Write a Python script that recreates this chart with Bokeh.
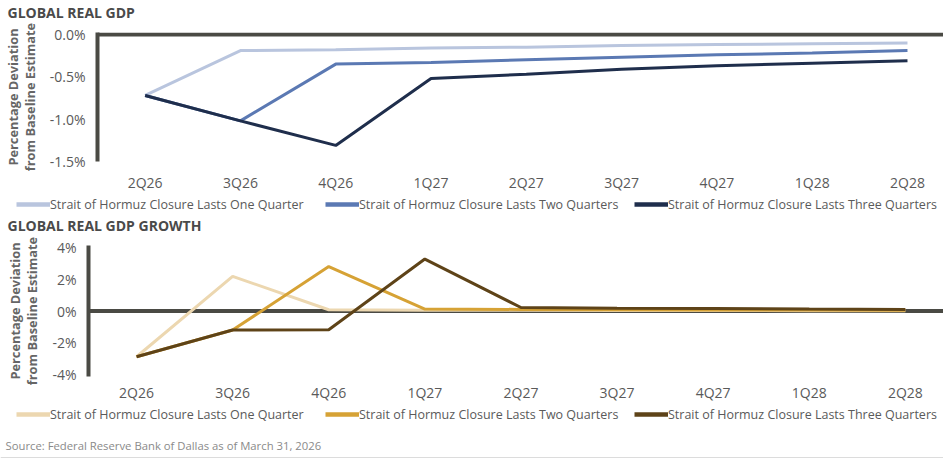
from bokeh.plotting import figure
from bokeh.models import Range1d, FixedTicker, Span, Legend, LegendItem, Label
from bokeh.layouts import column
from bokeh.embed import file_html
from bokeh.resources import INLINE

quarters = ["2Q26", "3Q26", "4Q26", "1Q27", "2Q27", "3Q27", "4Q27", "1Q28", "2Q28"]
series_names = [
    "Strait of Hormuz Closure Lasts One Quarter",
    "Strait of Hormuz Closure Lasts Two Quarters",
    "Strait of Hormuz Closure Lasts Three Quarters",
]
gdp_one = [-0.72, -0.19, -0.18, -0.16, -0.15, -0.13, -0.12, -0.11, -0.10]
gdp_two = [-0.72, -1.02, -0.35, -0.33, -0.30, -0.27, -0.24, -0.22, -0.19]
gdp_three = [-0.72, -1.02, -1.31, -0.52, -0.47, -0.41, -0.37, -0.34, -0.31]
growth_one = [-2.88, 2.18, 0.08, 0.05, 0.04, 0.03, 0.03, 0.02, 0.02]
growth_two = [-2.88, -1.20, 2.80, 0.12, 0.10, 0.08, 0.07, 0.06, 0.05]
growth_three = [-2.88, -1.20, -1.18, 3.27, 0.22, 0.18, 0.15, 0.12, 0.10]
gdp_ticks = [0.0, -0.5, -1.0, -1.5]
gdp_tick_labels = ["0.0%", "-0.5%", "-1.0%", "-1.5%"]
growth_ticks = [4, 2, 0, -2, -4]
growth_tick_labels = ["4%", "2%", "0%", "-2%", "-4%"]
title_top = "GLOBAL REAL GDP"
title_bottom = "GLOBAL REAL GDP GROWTH"
y_label = "Percentage Deviation\nfrom Baseline Estimate"
source_text = "Source: Federal Reserve Bank of Dallas as of March 31, 2026"

FONT = "Open Sans"
AXIS_COL = "#4a4a44"
TEXT_COL = "#5a5a5a"
blues = ["#b9c5de", "#5b79b3", "#1f2e4c"]
golds = ["#ecd7b0", "#d6a235", "#5e4318"]
LINE_W = 3

xs = list(range(len(quarters)))
W = 943


def helper(h):
    p = figure(width=W, height=h, output_backend="svg", toolbar_location=None,
               x_range=Range1d(0, W), y_range=Range1d(h, 0),
               x_axis_type=None, y_axis_type=None, min_border=0,
               outline_line_color=None, background_fill_color="white",
               border_fill_color="white")
    p.frame_align = False
    return p


def title_fig(h, text, y):
    p = helper(h)
    p.add_layout(Label(x=7, y=y, text=text, text_font=FONT, text_font_size="14px",
                       text_font_style="bold", text_color="#4a4a4a",
                       text_baseline="middle"))
    return p


def legend_fig(h, colors, series):
    p = helper(h)
    # the series are drawn on an off-screen range: only their legend keys show
    p.extra_x_ranges = {"off": Range1d(100, 200)}
    p.extra_y_ranges = {"off": Range1d(100, 200)}
    items = []
    for name, col, vals in zip(series_names, colors, series):
        r = p.line(xs, vals, line_color=col, line_width=LINE_W + 1.5,
                   x_range_name="off", y_range_name="off")
        items.append(LegendItem(label=name, renderers=[r]))
    leg = Legend(items=items, orientation="horizontal", location=(16, 0),
                 glyph_width=34, glyph_height=h, label_standoff=0, spacing=7,
                 label_width=268, padding=0, margin=0, border_line_color=None,
                 background_fill_alpha=0, label_text_font=FONT,
                 label_text_font_size="12.5px", label_text_color=TEXT_COL,
                 label_height=h)
    p.add_layout(leg, "center")
    return p


def chart(height, x_end, y_start, y_end, left, top, bottom, ticks, tick_labels,
          series, colors, x_standoff):
    p = figure(width=W, height=height, output_backend="svg", toolbar_location=None,
               x_range=Range1d(-0.5, x_end), y_range=Range1d(y_start, y_end),
               min_border_left=left, min_border_right=0, min_border_top=top,
               min_border_bottom=bottom, outline_line_color=None,
               background_fill_color="white", border_fill_color="white")
    p.frame_align = False
    p.grid.visible = False
    xa = p.xaxis[0]
    xa.ticker = FixedTicker(ticks=xs)
    xa.major_label_overrides = {i: q for i, q in enumerate(quarters)}
    xa.axis_line_color = None
    xa.major_tick_line_color = None
    xa.minor_tick_line_color = None
    xa.major_tick_out = 0
    xa.major_tick_in = 0
    xa.major_label_standoff = x_standoff
    xa.major_label_text_font = FONT
    xa.major_label_text_font_size = "14px"
    xa.major_label_text_color = TEXT_COL
    ya = p.yaxis[0]
    ya.ticker = FixedTicker(ticks=ticks)
    ya.major_label_overrides = {t: l for t, l in zip(ticks, tick_labels)}
    ya.axis_line_color = AXIS_COL
    ya.axis_line_width = 4
    ya.major_tick_line_color = None
    ya.minor_tick_line_color = None
    ya.major_tick_out = 0
    ya.major_tick_in = 0
    ya.major_label_standoff = 12
    ya.major_label_text_font = FONT
    ya.major_label_text_font_size = "14px"
    ya.major_label_text_color = TEXT_COL
    ya.axis_label = y_label
    ya.axis_label_text_font = FONT
    ya.axis_label_text_font_size = "12.8px"
    ya.axis_label_text_font_style = "bold"
    ya.axis_label_text_color = "#666666"
    ya.axis_label_text_line_height = 0.95
    ya.axis_label_standoff = 8

    p.add_layout(Span(location=0, dimension="width", line_color=AXIS_COL,
                      line_width=4, level="underlay"))
    for vals, col in zip(series, colors):
        p.line(xs, vals, line_color=col, line_width=LINE_W)
    return p


gdp_series = [gdp_one, gdp_two, gdp_three]
growth_series = [growth_one, growth_two, growth_three]

t1 = title_fig(22, title_top, 12)
c1 = chart(172, 8.378, -1.5, 0.023, 97, 10, 31, gdp_ticks, gdp_tick_labels,
           gdp_series, blues, 11)
l1 = legend_fig(20, blues, gdp_series)
t2 = title_fig(22, title_bottom, 11)
c2 = chart(168, 8.397, -4.124, 4.124, 88, 9, 26, growth_ticks, growth_tick_labels,
           growth_series, golds, 6)
l2 = legend_fig(20, golds, growth_series)
s = helper(35)
s.add_layout(Label(x=5, y=21, text=source_text, text_font=FONT,
                   text_font_size="11.3px", text_color="#8a8a8a",
                   text_baseline="middle"))
s.add_layout(Span(location=33, dimension="width", line_color="#dcdcdc", line_width=1))

layout = column(t1, c1, l1, t2, c2, l2, s, spacing=0)
open("out.html", "w").write(file_html(layout, INLINE))
